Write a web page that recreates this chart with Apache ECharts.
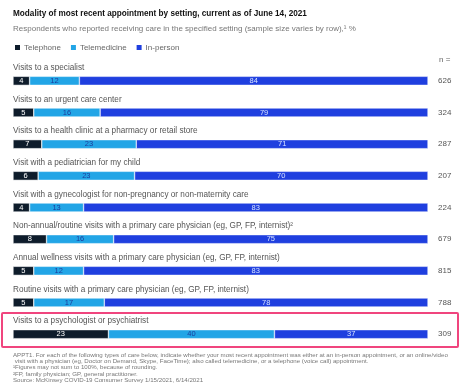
<!DOCTYPE html>
<html><head><meta charset="utf-8">
<script src="https://cdn.jsdelivr.net/npm/echarts@6/dist/echarts.min.js"></script>
<style>html,body{margin:0;padding:0;background:#fff}#c{width:460px;height:390px}</style>
</head><body><div id="c"></div>
<script>
const categories = [
  "Visits to a specialist",
  "Visits to an urgent care center",
  "Visits to a health clinic at a pharmacy or retail store",
  "Visit with a pediatrician for my child",
  "Visit with a gynecologist for non-pregnancy or non-maternity care",
  "Non-annual/routine visits with a primary care physician (eg, GP, FP, internist)\u00B2",
  "Annual wellness visits with a primary care physician (eg, GP, FP, internist)",
  "Routine visits with a primary care physician (eg, GP, FP, internist)",
  "Visits to a psychologist or psychiatrist"
];
const telephone    = [4, 5, 7, 6, 4, 8, 5, 5, 23];
const telemedicine = [12, 16, 23, 23, 13, 16, 12, 17, 40];
const inPerson     = [84, 79, 71, 70, 83, 75, 83, 78, 37];
const sampleSizes  = [626, 324, 287, 207, 224, 679, 815, 788, 309];
const seriesNames  = ["Telephone", "Telemedicine", "In-person"];
const footnotes = [
  "APPT1. For each of the following types of care below, indicate whether your most recent appointment was either at an in-person appointment, or an online/video",
  " visit with a physician (eg, Doctor on Demand, Skype, FaceTime); also called telemedicine, or a telephone (voice call) appointment.",
  "\u00B9Figures may not sum to 100%, because of rounding.",
  "\u00B2FP, family physician; GP, general practitioner.",
  "Source: McKinsey COVID-19 Consumer Survey 1/15/2021, 6/14/2021"
];

const FONT = '"Liberation Sans", Arial, sans-serif';
const raw = [telephone, telemedicine, inPerson];
const totals = categories.map((_, i) => raw.reduce((s, a) => s + a[i], 0));
const colors = ['#0e1c2b', '#22a5e6', '#1f3fdf'];
const labelColors = ['#ffffff', '#1c3c9c', '#d6e2ff'];

const chart = echarts.init(document.getElementById('c'));
const series = raw.map((arr, k) => ({
  name: seriesNames[k],
  type: 'bar',
  stack: 'total',
  barWidth: 9,
  data: arr.map((v, i) => ({ value: v / totals[i] * 100, raw: v })),
  itemStyle: { color: colors[k], borderColor: '#ffffff', borderWidth: 0.5 },
  label: {
    show: true, position: 'inside', fontFamily: FONT, fontSize: 7.5,
    color: labelColors[k],
    formatter: p => String(p.data.raw)
  },
  emphasis: { disabled: true }
}));

chart.setOption({
  animation: false,
  backgroundColor: '#ffffff',
  textStyle: { fontFamily: FONT },
  legend: {
    left: 13, top: 43, padding: 0, itemWidth: 7, itemHeight: 7, itemGap: 8,
    icon: 'rect',
    textStyle: { fontSize: 8, color: '#666', fontFamily: FONT, padding: [0, 0, 0, -2] },
    data: seriesNames
  },
  grid: { left: 13, right: 32, top: 65, bottom: 40 },
  xAxis: { type: 'value', min: 0, max: 100, show: false },
  yAxis: [
    {
      type: 'category', data: categories, inverse: true,
      axisLine: { show: false }, axisTick: { show: false },
      axisLabel: {
        inside: true, margin: 0, align: 'left', verticalAlign: 'bottom',
        padding: [0, 0, 9, 0], fontSize: 8.2, color: '#555', fontFamily: FONT
      }
    },
    {
      type: 'category', data: sampleSizes, inverse: true, position: 'right',
      axisLine: { show: false }, axisTick: { show: false },
      axisLabel: { margin: 10, align: 'left', fontSize: 8, color: '#555', fontFamily: FONT }
    }
  ],
  series: series,
  graphic: [
    { type: 'text', left: 13, top: 10, style: { text: 'Modality of most recent appointment by setting, current as of June 14, 2021', font: 'bold 8.2px ' + FONT, fill: '#111' } },
    { type: 'text', left: 13, top: 25, style: { text: 'Respondents who reported receiving care in the specified setting (sample size varies by row),\u00B9 %', font: '8px ' + FONT, fill: '#777' } },
    { type: 'text', left: 439, top: 56, style: { text: 'n =', font: '8px ' + FONT, fill: '#666' } },
    { type: 'rect', shape: { x: 2, y: 313, width: 456, height: 34, r: 1 }, style: { fill: 'none', stroke: '#f0457e', lineWidth: 2 }, z: 10 },
    ...footnotes.map((t, i) => ({
      type: 'text', left: 13, top: 352 + i * 6.3,
      style: { text: t, font: '6.15px ' + FONT, fill: '#777' }
    }))
  ]
});
</script></body></html>
